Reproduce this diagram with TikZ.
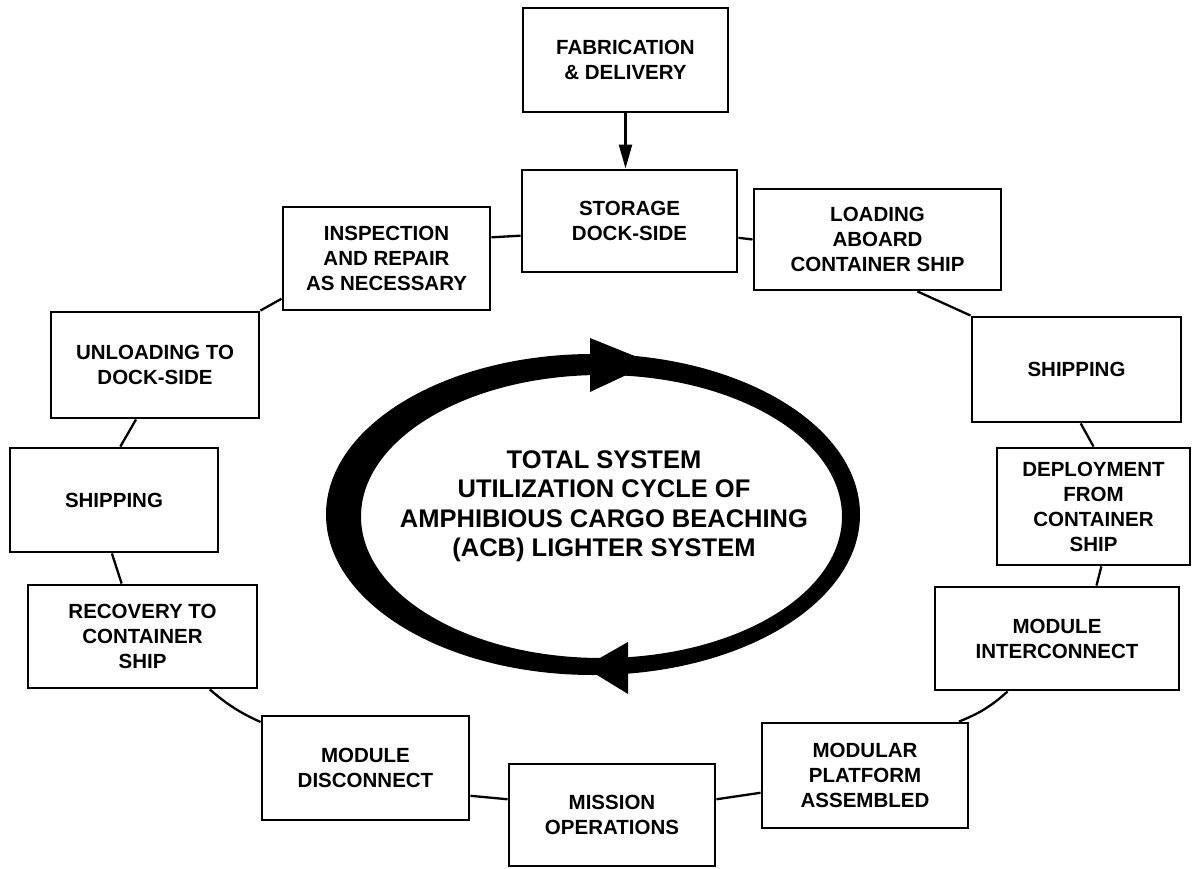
\documentclass[tikz,border=0pt]{standalone}
\usepackage{fontspec}
\setmainfont{Liberation Sans}
\usetikzlibrary{calc,arrows.meta}
\newcommand\boxfont{\fontsize{20.5}{25}\selectfont\bfseries}
\newcommand\titlefont{\fontsize{25.5}{29.5}\selectfont\bfseries}
\newcommand\bx[6]{\node[box, minimum width={#4-#2}, minimum height={#5-#3}] (#1) at ({(#2+#4)/2},{(#3+#5)/2}) {#6};}
\tikzset{
  box/.style={draw, line width=2.9pt, inner sep=0pt, align=center, font=\boxfont},
  link/.style={line width=2.3pt},
  band/.style={fill=black, even odd rule},
  head/.style={fill=black},
}
\begin{document}
\begin{tikzpicture}[x=1pt, y=-1pt]
\useasboundingbox (0,0) rectangle (1194,869);
\fill[white] (0,0) rectangle (1194,869);

% boxes
\bx{fab}{523}{8}{728}{112}{FABRICATION\\\& DELIVERY}
\bx{sto}{522}{170}{737}{272}{STORAGE\\DOCK-SIDE}
\bx{ins}{283}{207}{490}{310}{INSPECTION\\AND REPAIR\\AS NECESSARY}
\bx{load}{754}{189}{1001}{290}{LOADING\\ABOARD\\CONTAINER SHIP}
\bx{shipr}{972}{317}{1181}{422}{SHIPPING}
\bx{dep}{997}{448}{1190}{565}{DEPLOYMENT\\FROM\\CONTAINER\\SHIP}
\bx{int}{935}{587}{1179}{690}{MODULE\\INTERCONNECT}
\bx{plat}{762}{723}{968}{828}{MODULAR\\PLATFORM\\ASSEMBLED}
\bx{mis}{509}{764}{715}{866}{MISSION\\OPERATIONS}
\bx{dis}{262}{716}{469}{820}{MODULE\\DISCONNECT}
\bx{rec}{28}{585}{257}{688}{RECOVERY TO\\CONTAINER\\SHIP}
\bx{shipl}{10}{448}{218}{552}{SHIPPING}
\bx{unl}{51}{312}{259}{418}{UNLOADING TO\\DOCK-SIDE}

% connectors
\draw[link, -{Triangle[length=24pt,width=13pt]}] (fab.south) -- (fab.south |- sto.north);
\draw[link] ($(ins.north east)!0.3!(ins.south east)$) -- ($(sto.north west)!0.64!(sto.south west)$);
\draw[link] ($(sto.north east)!0.66!(sto.south east)$) -- (load.west);
\draw[link] ($(load.south west)!0.66!(load.south east)$) -- (shipr.north west);
\draw[link] ($(shipr.south west)!0.52!(shipr.south east)$) -- (dep.north);
\draw[link] ($(dep.south west)!0.54!(dep.south east)$) -- ($(int.north west)!0.66!(int.north east)$);
\draw[link] ($(int.south west)!0.3!(int.south east)$) to[bend left=10] ($(plat.north west)!0.95!(plat.north east)$);
\draw[link] ($(plat.north west)!0.66!(plat.south west)$) -- ($(mis.north east)!0.35!(mis.south east)$);
\draw[link] ($(mis.north west)!0.35!(mis.south west)$) -- ($(dis.north east)!0.76!(dis.south east)$);
\draw[link] ($(dis.north west)!0.07!(dis.south west)$) to[bend left=8] ($(rec.south west)!0.79!(rec.south east)$);
\draw[link] ($(rec.north west)!0.41!(rec.north east)$) -- ($(shipl.south west)!0.49!(shipl.south east)$);
\draw[link] ($(shipl.north west)!0.53!(shipl.north east)$) -- ($(unl.south west)!0.41!(unl.south east)$);
\draw[link] (unl.north east) -- ($(ins.north west)!0.88!(ins.south west)$);

% central cycle
\fill[band] (593,514.5) ellipse [x radius=267pt, y radius=160.5pt]
            (601.5,516.5) ellipse [x radius=240.5pt, y radius=141.5pt];
\fill[head] (590,338) -- (590,392) -- (652,363) -- cycle;
\fill[head] (628,642) -- (628,694) -- (584,667) -- cycle;
\node[font=\titlefont, align=center, inner sep=0pt] (title) at (604,506)
  {TOTAL SYSTEM\\UTILIZATION CYCLE OF\\AMPHIBIOUS CARGO BEACHING\\(ACB) LIGHTER SYSTEM};
\end{tikzpicture}
\end{document}
